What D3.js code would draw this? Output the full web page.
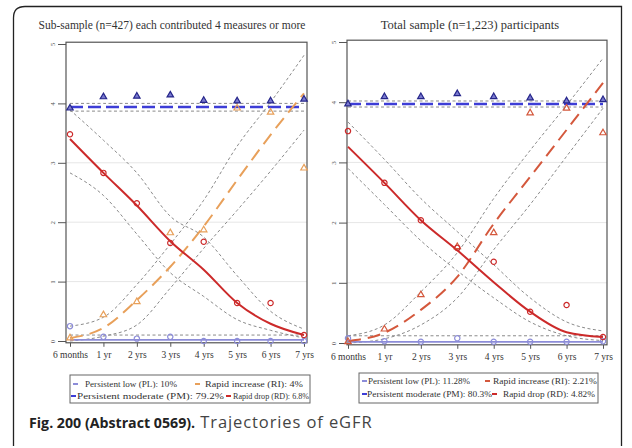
<!DOCTYPE html>
<html><head><meta charset="utf-8">
<script src="https://cdn.jsdelivr.net/npm/d3@7"></script>
<style>body{margin:0;background:#fff}svg{display:block}</style>
</head><body>
<script>
const xLabels = ["6 months","1 yr","2 yrs","3 yrs","4 yrs","5 yrs","6 yrs","7 yrs"];
const yTicks = [0,1,2,3,4,5];

// Left panel: sub-sample
const titleL = "Sub-sample (n=427) each contributed 4 measures or more";
const pmFitL = [3.94,3.94,3.94,3.94,3.94,3.94,3.94,3.94];
const pmObsL = [3.92,4.11,4.12,4.14,4.05,4.04,4.04,4.07];
const pmUpL  = [4.0,4.0,4.0,4.0,4.0,4.0,4.0,4.0];
const pmLoL  = [3.87,3.87,3.87,3.87,3.87,3.87,3.87,3.87];
const rdFitL = [3.4,2.83,2.28,1.68,1.2,0.64,0.29,0.1];
const rdObsL = [3.48,2.83,2.32,1.65,1.67,0.64,0.64,0.1];
const rdUpL  = [3.89,3.38,2.83,2.1,1.75,1.1,0.5,0.2];
const rdLoL  = [2.83,2.45,1.8,1.15,0.75,0.36,0.18,0.05];
const riFitL = [0.05,0.22,0.69,1.25,1.93,2.71,3.47,4.17];
const riObsL = [0.05,0.44,0.66,1.82,1.87,3.92,3.85,2.91];
const riUpL  = [0.25,0.4,0.95,1.63,2.37,3.28,4.02,4.81];
const riLoL  = [0.0,0.08,0.27,0.89,1.56,2.2,2.86,3.55];
const plFitL = [0.02,0.02,0.02,0.02,0.02,0.02,0.02,0.02];
const plObsL = [0.25,0.07,0.04,0.07,0.0,0.0,0.0,0.0];
const plUpL  = [0.1,0.1,0.1,0.1,0.1,0.1,0.1,0.1];
const legendL = ["Persistent low (PL): 10%","Rapid increase (RI): 4%","Persistent moderate (PM): 79.2%","Rapid drop (RD): 6.8%"];

// Right panel: total sample
const titleR = "Total sample (n=1,223) participants";
const pmFitR = [3.97,3.97,3.97,3.97,3.97,3.97,3.97,3.97];
const pmObsR = [3.97,4.09,4.09,4.14,4.09,4.07,4.02,4.04];
const pmUpR  = [4.02,4.02,4.02,4.02,4.02,4.02,4.02,4.02];
const pmLoR  = [3.92,3.92,3.92,3.92,3.92,3.92,3.92,3.92];
const rdFitR = [3.26,2.66,2.04,1.54,1.01,0.52,0.18,0.1];
const rdObsR = [3.52,2.66,2.04,1.58,1.35,0.52,0.63,0.1];
const rdUpR  = [3.67,3.05,2.4,1.85,1.3,0.75,0.35,0.2];
const rdLoR  = [2.9,2.3,1.7,1.2,0.75,0.35,0.12,0.04];
const riFitR = [0.03,0.17,0.55,1.1,1.98,2.76,3.54,4.32];
const riObsR = [0.02,0.23,0.8,1.6,1.83,3.82,3.9,3.49];
const riUpR  = [0.12,0.3,0.85,1.5,2.4,3.2,3.95,4.73];
const riLoR  = [0.0,0.07,0.3,0.75,1.55,2.3,3.1,3.9];
const plFitR = [0.02,0.02,0.02,0.02,0.02,0.02,0.02,0.02];
const plObsR = [0.08,0.03,0.02,0.08,0.02,0.02,0.02,0.03];
const plUpR  = [0.12,0.12,0.12,0.12,0.12,0.12,0.12,0.12];
const legendR = ["Persistent low (PL): 11.28%","Rapid increase (RI):  2.21%","Persistent moderate (PM): 80.3%","Rapid drop (RD): 4.82%"];

const captionBold = "Fig. 200 (Abstract 0569).";
const captionText = " Trajectories of eGFR";

const W = 632, H = 448;
const svg = d3.select("body").append("svg").attr("width", W).attr("height", H);

// outer frame with rounded top-left corner
svg.append("path")
  .attr("d", `M13.5,446 L13.5,18 Q13.5,6.5 25,6.5 L621.5,6.5 L621.5,446`)
  .attr("fill","none").attr("stroke","#222").attr("stroke-width",1.3);

const SERIF = "'Liberation Serif','DejaVu Serif',serif";
const cPM = "#3d3dd6", cPMm = "#26268a", cRD = "#cc2a2a", cPL = "#8c8cd8", cCI = "#8a8a8a";

function panel(cfg) {
  const x = d3.scalePoint().domain(xLabels).range([cfg.x0, cfg.x1]);
  const y = d3.scaleLinear().domain([0,5]).range([cfg.y0, cfg.y5]);
  const g = svg.append("g");
  const fx0 = cfg.fx0, fx1 = cfg.fx1, fy0 = y(5.03), fy1 = y(-0.03);

  g.append("text").attr("x", cfg.titleX).attr("y", 29).attr("text-anchor","middle")
    .attr("font-family", SERIF).attr("font-size", cfg.titleSize).attr("fill","#333").text(cfg.title);

  g.selectAll(".grid").data([1,2,3]).join("line")
    .attr("x1", fx0).attr("x2", fx1).attr("y1", d=>y(d)).attr("y2", d=>y(d))
    .attr("stroke","#e6e6e6").attr("stroke-width",1);

  g.append("rect").attr("x", fx0).attr("y", fy0).attr("width", fx1-fx0).attr("height", fy1-fy0)
    .attr("fill","none").attr("stroke","#555").attr("stroke-width",1.2);

  const ya = d3.axisLeft(y).tickValues(yTicks).tickSize(8).tickFormat(d3.format("d"));
  const yg = g.append("g").attr("transform", `translate(${fx0},0)`).call(ya);
  yg.select(".domain").remove();
  yg.selectAll("line").attr("stroke","#555");
  yg.selectAll("text").attr("font-family", SERIF).attr("font-size", 7).attr("fill","#555")
    .attr("x", 0).attr("y", 0).attr("dy","0.32em").attr("text-anchor","middle")
    .attr("transform", "translate(-13,0) rotate(-90)");

  const xa = d3.axisBottom(x).tickSize(4);
  const xg = g.append("g").attr("transform", `translate(0,${fy1})`).call(xa);
  xg.select(".domain").remove();
  xg.selectAll("line").attr("stroke","#555");
  xg.selectAll("text").attr("font-family", SERIF).attr("font-size", 9.5).attr("fill","#333").attr("y", 8);

  const line = d3.line().x((d,i)=>x(xLabels[i])).y(d=>y(d)).curve(d3.curveMonotoneX);

  const ci = arr => g.append("path").attr("d", line(arr)).attr("fill","none")
    .attr("stroke", cCI).attr("stroke-width",1).attr("stroke-dasharray","3,2.5");
  [cfg.pmUp,cfg.pmLo,cfg.rdUp,cfg.rdLo,cfg.riUp,cfg.riLo,cfg.plUp].forEach(ci);

  g.append("path").attr("d", line(cfg.plFit)).attr("fill","none").attr("stroke", cPL).attr("stroke-width",1.8);
  g.append("path").attr("d", line(cfg.pmFit)).attr("fill","none").attr("stroke", cPM).attr("stroke-width",2.6).attr("stroke-dasharray","13,5");
  g.append("path").attr("d", line(cfg.riFit)).attr("fill","none").attr("stroke", cfg.cRI).attr("stroke-width",2).attr("stroke-dasharray","13,7");
  g.append("path").attr("d", line(cfg.rdFit)).attr("fill","none").attr("stroke", cRD).attr("stroke-width",2);

  const tri = d3.symbol().type(d3.symbolTriangle).size(18);
  const circ = d3.symbol().type(d3.symbolCircle).size(22);
  const mk = (arr, sym, col, fill) => g.append("g").selectAll("path").data(arr).join("path")
    .attr("d", sym).attr("transform", (d,i)=>`translate(${x(xLabels[i])},${y(d)})`)
    .attr("fill", fill).attr("stroke", col).attr("stroke-width",1.2);
  mk(cfg.plObs, circ, cPL, "none");
  mk(cfg.riObs, tri, cfg.cRI, "none");
  mk(cfg.rdObs, circ, cRD, "none");
  mk(cfg.pmObs, tri, cPMm, "#7a7ad0");

  const L = cfg.leg;
  g.append("rect").attr("x", L.x).attr("y", L.y).attr("width", L.w).attr("height", L.h)
    .attr("fill","none").attr("stroke","#666").attr("stroke-width",1);
  const cols = [cPL, cfg.cRI, cPM, cRD];
  L.items.forEach((it, k) => {
    g.append("line").attr("x1", it[0]).attr("x2", it[0]+5).attr("y1", it[3]-3).attr("y2", it[3]-3)
      .attr("stroke", cols[k]).attr("stroke-width", 2);
    g.append("text").attr("x", it[1]).attr("y", it[3]).attr("font-family", SERIF)
      .attr("font-size", 8.3).attr("fill","#333")
      .attr("textLength", it[2]).attr("lengthAdjust","spacingAndGlyphs").text(cfg.legend[k]);
  });
}

panel({
  title: titleL, titleX: 172, titleSize: 11.5,
  x0: 70, x1: 304, y0: 341, y5: 44, fx0: 66, fx1: 307,
  pmFit: pmFitL, pmObs: pmObsL, pmUp: pmUpL, pmLo: pmLoL,
  rdFit: rdFitL, rdObs: rdObsL, rdUp: rdUpL, rdLo: rdLoL,
  riFit: riFitL, riObs: riObsL, riUp: riUpL, riLo: riLoL,
  plFit: plFitL, plObs: plObsL, plUp: plUpL,
  cRI: "#e8a05a", legend: legendL,
  leg: {x: 70, y: 375, w: 240, h: 28,
        items: [[73, 85, 92, 387], [195, 205, 98, 387], [71, 77, 147, 399], [226, 233, 76, 399]]}
});

panel({
  title: titleR, titleX: 470, titleSize: 12.5,
  x0: 348, x1: 603, y0: 343, y5: 42, fx0: 347, fx1: 607,
  pmFit: pmFitR, pmObs: pmObsR, pmUp: pmUpR, pmLo: pmLoR,
  rdFit: rdFitR, rdObs: rdObsR, rdUp: rdUpR, rdLo: rdLoR,
  riFit: riFitR, riObs: riObsR, riUp: riUpR, riLo: riLoR,
  plFit: plFitR, plObs: plObsR, plUp: plUpR,
  cRI: "#d4583c", legend: legendR,
  leg: {x: 359, y: 373, w: 239, h: 30,
        items: [[362, 368, 102, 384], [485, 493, 104, 384], [362, 367, 125, 397], [492, 503, 92, 397]]}
});

const cap = svg.append("text").attr("x", 29).attr("y", 428)
  .attr("font-family", "'Open Sans','Noto Sans',sans-serif").attr("fill","#222");
cap.append("tspan").attr("font-weight","bold").attr("font-size", 14.2).text(captionBold);
cap.append("tspan").attr("fill","#444").attr("font-size", 16.5).attr("letter-spacing", 0.9).text(captionText);
</script>
</body></html>
